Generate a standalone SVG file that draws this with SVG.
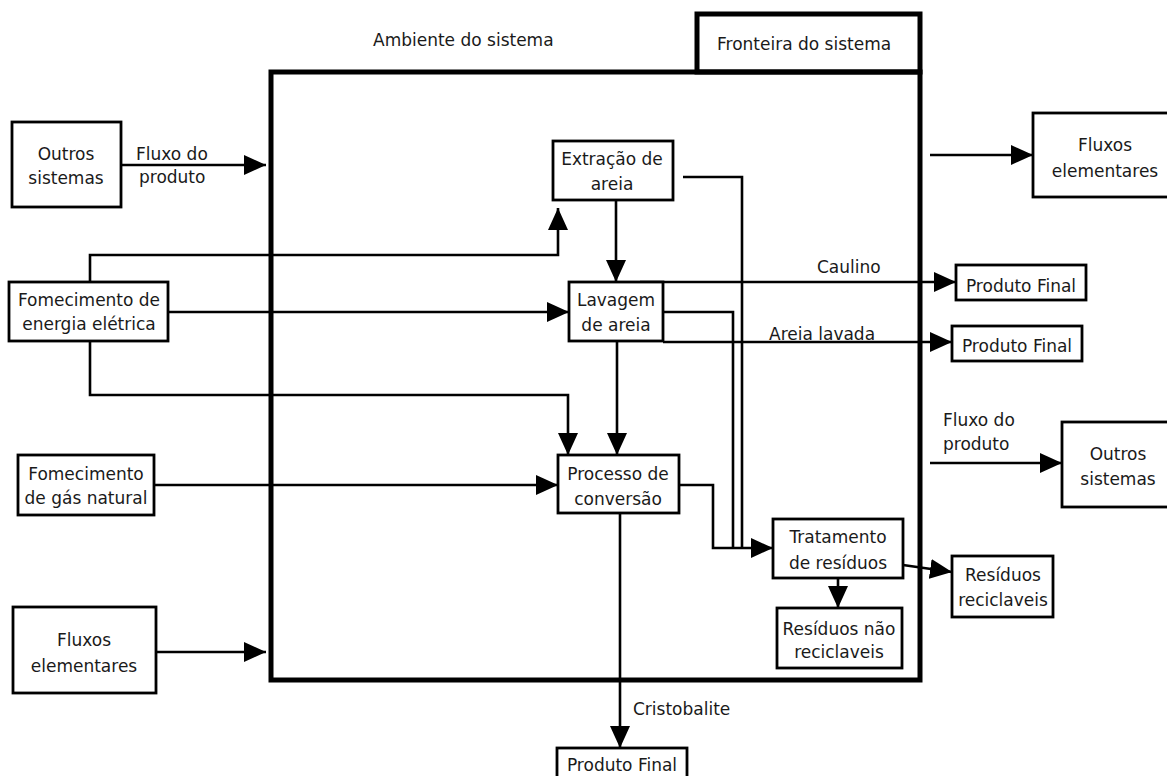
<svg xmlns="http://www.w3.org/2000/svg" width="1167" height="776" viewBox="0 0 1167 776">
<style>
.box{fill:#fff;stroke:#000;stroke-width:2.8}
.bound{fill:none;stroke:#000;stroke-width:5}
.ln{fill:none;stroke:#000;stroke-width:2.6}
.arr{marker-end:url(#ah)}
text{font-family:"DejaVu Sans","Verdana",sans-serif;font-size:17px;fill:#1a1a1a}
.c{text-anchor:middle}
</style>
<defs>
<marker id="ah" markerUnits="userSpaceOnUse" markerWidth="22" markerHeight="20" refX="22" refY="10" orient="auto">
<path d="M0,0 L22,10 L0,20 Z" fill="#000"/>
</marker>
</defs>
<rect width="1167" height="776" fill="#fff"/>
<g id="boundary">
<rect class="bound" x="271" y="72" width="649" height="608"/>
<rect class="bound" x="697" y="14" width="223" height="58"/>
<text x="373" y="46">Ambiente do sistema</text>
<text x="717" y="50">Fronteira do sistema</text>
</g>
<g id="connectors">
<path class="ln arr" d="M121,165 H266"/>
<text x="136" y="160">Fluxo do</text>
<text x="139" y="183">produto</text>
<path class="ln arr" d="M930,155 H1033"/>
<path class="ln arr" d="M90,282 V255 H558 V208"/>
<path class="ln arr" d="M168,312 H569"/>
<path class="ln arr" d="M90,341 V395 H568 V455"/>
<path class="ln arr" d="M616,200 V282"/>
<path class="ln arr" d="M617,341 V455"/>
<path class="ln arr" d="M154,485 H558"/>
<path class="ln arr" d="M156,652 H266"/>
<path class="ln" d="M683,177 H742 V548"/>
<path class="ln" d="M663,312 H733 V548"/>
<path class="ln arr" d="M679,485 H713 V548 H773"/>
<path class="ln arr" d="M640,282 H956"/>
<text x="817" y="273">Caulino</text>
<path class="ln arr" d="M663,342 H952"/>
<text x="769" y="340">Areia lavada</text>
<path class="ln arr" d="M930,463 H1062"/>
<text x="943" y="426">Fluxo do</text>
<text x="943" y="450">produto</text>
<path class="ln arr" d="M838,578 V608"/>
<path class="ln arr" d="M903,565 L952,572"/>
<path class="ln arr" d="M620,513 V748"/>
<text x="633" y="715">Cristobalite</text>
</g>
<g id="outros-left"><rect class="box" x="12" y="122" width="109" height="85"/><text class="c" x="66" y="160">Outros</text><text class="c" x="66" y="184">sistemas</text></g>
<g id="fluxos-right"><rect class="box" x="1033" y="113" width="150" height="84"/><text class="c" x="1105" y="151">Fluxos</text><text class="c" x="1105" y="177">elementares</text></g>
<g id="extracao"><rect class="box" x="553" y="141" width="120" height="59"/><text class="c" x="612" y="165">Extração de</text><text class="c" x="612" y="190">areia</text></g>
<g id="energia"><rect class="box" x="9" y="282" width="159" height="59"/><text class="c" x="89" y="306">Fomecimento de</text><text class="c" x="89" y="330">energia elétrica</text></g>
<g id="lavagem"><rect class="box" x="569" y="282" width="94" height="59"/><text class="c" x="616" y="306">Lavagem</text><text class="c" x="616" y="331">de areia</text></g>
<g id="gas"><rect class="box" x="18" y="455" width="136" height="60"/><text class="c" x="86" y="480">Fomecimento</text><text class="c" x="86" y="504">de gás natural</text></g>
<g id="processo"><rect class="box" x="558" y="455" width="121" height="58"/><text class="c" x="618" y="480">Processo de</text><text class="c" x="618" y="505">conversão</text></g>
<g id="fluxos-left"><rect class="box" x="13" y="607" width="143" height="86"/><text class="c" x="84" y="646">Fluxos</text><text class="c" x="84" y="672">elementares</text></g>
<g id="pf1"><rect class="box" x="956" y="265" width="130" height="35"/><text class="c" x="1021" y="292">Produto Final</text></g>
<g id="pf2"><rect class="box" x="952" y="326" width="130" height="35"/><text class="c" x="1017" y="352">Produto Final</text></g>
<g id="outros-right"><rect class="box" x="1062" y="422" width="120" height="85"/><text class="c" x="1118" y="460">Outros</text><text class="c" x="1118" y="485">sistemas</text></g>
<g id="tratamento"><rect class="box" x="773" y="519" width="130" height="59"/><text class="c" x="838" y="543">Tratamento</text><text class="c" x="838" y="569">de resíduos</text></g>
<g id="residuos-nao"><rect class="box" x="777" y="608" width="125" height="60"/><text class="c" x="839" y="635">Resíduos não</text><text class="c" x="839" y="658">reciclaveis</text></g>
<g id="residuos-rec"><rect class="box" x="952" y="556" width="101" height="61"/><text class="c" x="1003" y="581">Resíduos</text><text class="c" x="1003" y="606">reciclaveis</text></g>
<g id="pf-bottom"><rect class="box" x="557" y="748" width="130" height="40"/><text class="c" x="622" y="771">Produto Final</text></g>
</svg>
